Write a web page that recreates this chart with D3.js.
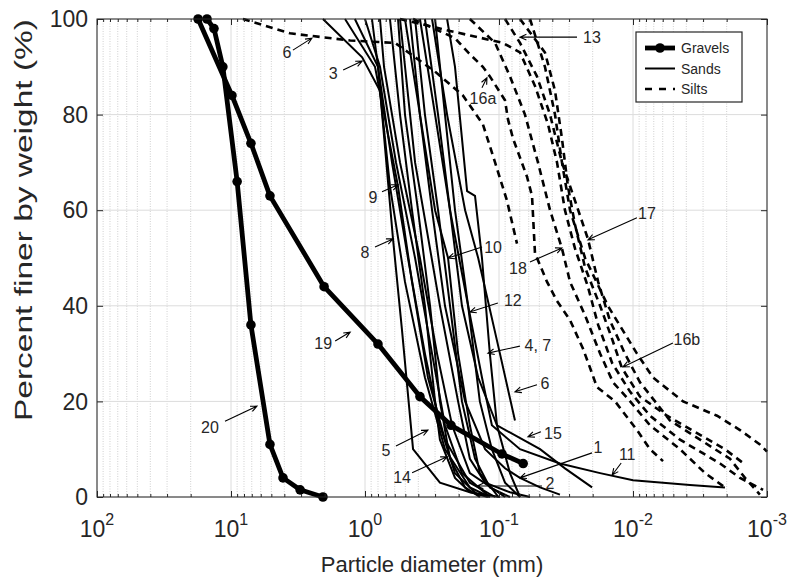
<!DOCTYPE html>
<html>
<head>
<meta charset="utf-8">
<script src="https://cdn.jsdelivr.net/npm/d3@7"></script>
<style>
  body { margin: 0; background: #fff; }
  text { font-family: "Liberation Sans", Arial, sans-serif; fill: #262626; }
</style>
</head>
<body>
<script>
const width = 794;
const height = 584;
const margin = { top: 19, right: 27, bottom: 87, left: 97 };

// ---- data: [particle diameter (mm), percent finer] ----
// gravels
const gravel19 = [[17.6,100],[9.84,84],[7.1,74],[5.12,63],[2.02,44],[0.8,32],[0.389,21],[0.228,15],[0.095,9],[0.066,7]];
const gravel20 = [[15.1,100],[13.4,98],[11.5,90],[9.0,66],[7.1,36],[5.12,11],[4.09,4],[3.05,1.5],[2.06,0]];

// sands
const sand3  = [[2.06,100],[1.05,92],[0.773,85],[0.651,65],[0.503,45],[0.357,25],[0.253,10],[0.165,2],[0.117,0]];
const sand9  = [[1.41,100],[0.842,90],[0.567,65],[0.446,45],[0.339,25],[0.253,12],[0.165,3],[0.107,0]];
const sand8  = [[0.887,100],[0.80,90],[0.618,54],[0.53,35],[0.438,10],[0.276,3],[0.165,1],[0.0984,0]];
const sandA  = [[1.19,100],[0.80,90],[0.629,70],[0.478,50],[0.357,30],[0.276,15],[0.213,5],[0.139,0]];
const sandB  = [[1.0,100],[0.773,90],[0.587,70],[0.423,50],[0.316,30],[0.253,15],[0.189,5],[0.117,0]];
const sandC  = [[0.773,100],[0.721,90],[0.548,70],[0.389,50],[0.29,30],[0.224,15],[0.165,5],[0.0902,0]];
const sand14 = [[0.567,100],[0.503,80],[0.402,60],[0.327,40],[0.276,20],[0.232,8],[0.179,2],[0.139,0]];
const sand10 = [[0.503,100],[0.389,80],[0.3,60],[0.24,50],[0.202,30],[0.165,15],[0.139,5],[0.101,0]];
const sandD  = [[0.423,100],[0.357,80],[0.285,60],[0.232,40],[0.189,20],[0.151,8],[0.117,2],[0.0828,0]];
const sand12 = [[0.389,100],[0.3,80],[0.232,60],[0.17,40],[0.139,20],[0.113,10],[0.0902,3],[0.0697,0]];
const sand47 = [[0.244,100],[0.213,90],[0.173,64],[0.151,63],[0.134,50],[0.117,30],[0.1035,15],[0.0828,5],[0.0697,0]];
const sand6  = [[0.316,100],[0.244,80],[0.179,60],[0.143,50],[0.0984,30],[0.076,16]];
const sand15 = [[0.357,100],[0.285,80],[0.232,60],[0.189,40],[0.143,25],[0.1035,15],[0.0494,10],[0.0322,6],[0.0202,2]];
const sand11 = [[0.3,100],[0.253,80],[0.213,60],[0.17,40],[0.134,25],[0.113,15],[0.0697,10],[0.0351,7],[0.0176,5],[0.01,3.5],[0.00376,2.5],[0.00206,2]];
const sand1  = [[0.461,100],[0.389,80],[0.316,60],[0.253,40],[0.179,20],[0.127,10],[0.0902,6],[0.0697,4],[0.0494,2],[0.0351,0.5]];
const sand2  = [[0.548,100],[0.423,70],[0.276,40],[0.202,20],[0.165,8],[0.127,3],[0.0828,1],[0.0587,0]];
const sand5  = [[0.651,100],[0.548,80],[0.446,60],[0.357,40],[0.3,20],[0.276,12],[0.213,4],[0.165,1],[0.121,0]];

// silts
const silt6   = [[8.14,100],[3.63,97],[1.29,95.5],[0.597,95],[0.3,89],[0.186,84],[0.132,78],[0.107,70],[0.0872,62],[0.0734,53]];
const silt16a = [[0.438,100],[0.213,96],[0.17,93],[0.132,90],[0.117,88],[0.0902,83],[0.0857,79],[0.0786,75],[0.0697,71],[0.0618,67],[0.0567,63],[0.0539,51],[0.0438,45],[0.0369,41],[0.0295,37],[0.0236,31],[0.0209,27],[0.0186,23],[0.0136,20],[0.00934,14],[0.00747,10],[0.00597,7.5]];
const silt18  = [[0.165,100],[0.107,95],[0.0828,88],[0.064,80],[0.0512,70],[0.0416,60],[0.0339,52],[0.0295,45],[0.0228,38],[0.0176,30],[0.0141,24],[0.0105,20],[0.00747,15],[0.00446,10],[0.0029,5],[0.00206,2]];
const silt13  = [[0.548,100],[0.232,97.5],[0.0934,95],[0.0697,93],[0.0539,86],[0.0431,78],[0.0369,70],[0.0322,60],[0.0271,52],[0.0217,44],[0.0182,36],[0.0143,28],[0.0105,22],[0.00747,17],[0.00446,12],[0.00224,7],[0.00159,4],[0.00107,1.5]];
const silt17  = [[0.0902,100],[0.0697,95],[0.0521,88],[0.0416,80],[0.0339,70],[0.0271,62],[0.0217,54],[0.0182,45],[0.0149,37],[0.0115,30],[0.00887,24],[0.00685,20],[0.0053,16],[0.00316,12],[0.00189,8],[0.00146,4],[0.00113,0.5]];
const silt16b = [[0.0697,100],[0.0454,93],[0.0382,85],[0.0339,75],[0.0306,65],[0.0271,57],[0.0228,48],[0.0176,40],[0.0143,33],[0.0121,27],[0.00887,21],[0.00557,17],[0.00316,13],[0.00206,10],[0.00154,7.3]];
const siltR   = [[0.0587,100],[0.0454,90],[0.0382,80],[0.0339,70],[0.0295,60],[0.0228,50],[0.0154,40],[0.00934,30],[0.00709,25],[0.00423,20],[0.00236,17],[0.00159,14],[0.00113,11],[0.001,9.5]];

const gravels = [gravel19, gravel20];
const sands = [sand3, sand9, sand8, sandA, sandB, sandC, sand14, sand10, sandD, sand12, sand47, sand6, sand15, sand11, sand1, sand2, sand5];
const silts = [silt6, silt16a, silt18, silt13, silt17, silt16b, siltR];

// axis ticks
const xMajor = [100, 10, 1, 0.1, 0.01, 0.001];
const xExponents = ["2", "1", "0", "-1", "-2", "-3"];
const yTicks = [0, 20, 40, 60, 80, 100];

// curve labels: tip in data units, text / arrow start as pixel offsets from the tip
const notes = [
  { t: "6",    d: 2.49,   p: 96.0, tx: -25, ty: 14,  ax: -19, ay: 12 },
  { t: "3",    d: 1.05,   p: 91.2, tx: -29, ty: 12,  ax: -19, ay: 9 },
  { t: "13",   d: 0.0697, p: 96.2, tx: 72,  ty: 0,   ax: 57,  ay: 0 },
  { t: "16a",  d: 0.123,  p: 87.7, tx: -4,  ty: 20,  ax: -5,  ay: 10 },
  { t: "9",    d: 0.567,  p: 65.3, tx: -25, ty: 12,  ax: -16, ay: 7 },
  { t: "8",    d: 0.618,  p: 54.0, tx: -28, ty: 13,  ax: -18, ay: 8 },
  { t: "10",   d: 0.240,  p: 50.0, tx: 45,  ty: -11, ax: 34,  ay: -11 },
  { t: "12",   d: 0.165,  p: 38.7, tx: 43,  ty: -12, ax: 28,  ay: -9 },
  { t: "4, 7", d: 0.121,  p: 30.1, tx: 50,  ty: -8,  ax: 32,  ay: -7 },
  { t: "18",   d: 0.0339, p: 52.1, tx: -44, ty: 20,  ax: -32, ay: 14 },
  { t: "17",   d: 0.0217, p: 53.8, tx: 59,  ty: -27, ax: 49,  ay: -22 },
  { t: "16b",  d: 0.0119, p: 27.2, tx: 64,  ty: -28, ax: 50,  ay: -24 },
  { t: "19",   d: 1.29,   p: 34.5, tx: -27, ty: 11,  ax: -15, ay: 9 },
  { t: "20",   d: 6.40,   p: 19.0, tx: -47, ty: 21,  ax: -32, ay: 15 },
  { t: "6",    d: 0.0760, p: 22.0, tx: 30,  ty: -9,  ax: 22,  ay: -7 },
  { t: "15",   d: 0.0608, p: 12.6, tx: 25,  ty: -4,  ax: 13,  ay: -5 },
  { t: "5",    d: 0.339,  p: 14.0, tx: -42, ty: 20,  ax: -32, ay: 16 },
  { t: "14",   d: 0.244,  p: 8.4,  tx: -45, ty: 20,  ax: -35, ay: 16 },
  { t: "2",    d: 0.146,  p: 2.3,  tx: 73,  ty: -3,  ax: 65,  ay: 0 },
  { t: "1",    d: 0.0697, p: 4.0,  tx: 78,  ty: -31, ax: 72,  ay: -25 },
  { t: "11",   d: 0.0143, p: 4.6,  tx: 15,  ty: -21, ax: 9,   ay: -12 }
];

let svg = d3
  .select("body")
  .append("svg")
  .attr("width", width)
  .attr("height", height);

let x = d3
  .scaleLog()
  .domain([100, 0.001])
  .range([margin.left, width - margin.right]);

let y = d3
  .scaleLinear()
  .domain([0, 100])
  .range([height - margin.bottom, margin.top]);

let xMinor = [];
[1, 0, -1, -2, -3].forEach((k) => {
  for (let m = 2; m <= 9; m++) xMinor.push(m * Math.pow(10, k));
});

// grid
let grid = svg.append("g");
grid
  .selectAll(".minor")
  .data(xMinor)
  .join("line")
  .attr("x1", (d) => x(d))
  .attr("x2", (d) => x(d))
  .attr("y1", y(0))
  .attr("y2", y(100))
  .attr("stroke", "#c4c4c4")
  .attr("stroke-width", 0.8)
  .attr("stroke-dasharray", "1,1.5");
grid
  .selectAll(".major")
  .data(xMajor)
  .join("line")
  .attr("x1", (d) => x(d))
  .attr("x2", (d) => x(d))
  .attr("y1", y(0))
  .attr("y2", y(100))
  .attr("stroke", "#dcdcdc")
  .attr("stroke-width", 1);
grid
  .selectAll(".hgrid")
  .data(yTicks)
  .join("line")
  .attr("x1", x(100))
  .attr("x2", x(0.001))
  .attr("y1", (d) => y(d))
  .attr("y2", (d) => y(d))
  .attr("stroke", "#dcdcdc")
  .attr("stroke-width", 1);

// curves
let line = d3
  .line()
  .x((d) => x(d[0]))
  .y((d) => y(d[1]));

svg
  .append("g")
  .selectAll("path")
  .data(silts)
  .join("path")
  .attr("d", line)
  .attr("fill", "none")
  .attr("stroke", "#000")
  .attr("stroke-width", 2.6)
  .attr("stroke-dasharray", "7,5");

svg
  .append("g")
  .selectAll("path")
  .data(sands)
  .join("path")
  .attr("d", line)
  .attr("fill", "none")
  .attr("stroke", "#000")
  .attr("stroke-width", 2);

let gravelG = svg.append("g");
gravelG
  .selectAll("path")
  .data(gravels)
  .join("path")
  .attr("d", line)
  .attr("fill", "none")
  .attr("stroke", "#000")
  .attr("stroke-width", 4.8)
  .attr("stroke-linejoin", "round");
gravelG
  .selectAll("circle")
  .data(gravels.flat())
  .join("circle")
  .attr("cx", (d) => x(d[0]))
  .attr("cy", (d) => y(d[1]))
  .attr("r", 4.8)
  .attr("fill", "#000");

// axes (ticks pointing inward, MATLAB style)
function styleAxis(g) {
  g.select(".domain").remove();
  g.selectAll("line").attr("stroke", "#262626");
}
let bottomY = height - margin.bottom;
svg.append("g").attr("transform", `translate(0,${bottomY})`)
  .call(d3.axisBottom(x).tickValues(xMajor).tickSize(-6).tickSizeOuter(0).tickFormat(""))
  .call(styleAxis);
svg.append("g").attr("transform", `translate(0,${bottomY})`)
  .call(d3.axisBottom(x).tickValues(xMinor).tickSize(-3).tickSizeOuter(0).tickFormat(""))
  .call(styleAxis);
svg.append("g").attr("transform", `translate(0,${margin.top})`)
  .call(d3.axisTop(x).tickValues(xMajor).tickSize(-6).tickSizeOuter(0).tickFormat(""))
  .call(styleAxis);
svg.append("g").attr("transform", `translate(0,${margin.top})`)
  .call(d3.axisTop(x).tickValues(xMinor).tickSize(-3).tickSizeOuter(0).tickFormat(""))
  .call(styleAxis);
svg.append("g").attr("transform", `translate(${margin.left},0)`)
  .call(d3.axisLeft(y).tickValues(yTicks).tickSize(-6).tickSizeOuter(0).tickFormat(""))
  .call(styleAxis);
svg.append("g").attr("transform", `translate(${width - margin.right},0)`)
  .call(d3.axisRight(y).tickValues(yTicks).tickSize(-6).tickSizeOuter(0).tickFormat(""))
  .call(styleAxis);

svg
  .append("rect")
  .attr("x", margin.left)
  .attr("y", margin.top)
  .attr("width", width - margin.left - margin.right)
  .attr("height", height - margin.top - margin.bottom)
  .attr("fill", "none")
  .attr("stroke", "#262626")
  .attr("stroke-width", 1);

// tick labels
let xLabels = svg
  .append("g")
  .selectAll("text")
  .data(xMajor)
  .join("text")
  .attr("x", (d) => x(d))
  .attr("y", bottomY + 40)
  .attr("text-anchor", "middle")
  .attr("font-size", 23);
xLabels.append("tspan").text("10");
xLabels
  .append("tspan")
  .attr("font-size", 16)
  .attr("dy", -12)
  .text((d, i) => xExponents[i]);

svg
  .append("g")
  .selectAll("text")
  .data(yTicks)
  .join("text")
  .attr("x", margin.left - 9)
  .attr("y", (d) => y(d))
  .attr("dy", "0.36em")
  .attr("text-anchor", "end")
  .attr("font-size", 23)
  .text((d) => d);

// axis titles
svg
  .append("text")
  .attr("x", (margin.left + width - margin.right) / 2)
  .attr("y", 572)
  .attr("text-anchor", "middle")
  .attr("font-size", 22)
  .text("Particle diameter (mm)");

// the y title in the source is stretched along its length
svg
  .append("text")
  .attr("transform", "translate(32,220) rotate(-90)")
  .attr("text-anchor", "middle")
  .attr("font-size", 23)
  .attr("textLength", 402)
  .attr("lengthAdjust", "spacingAndGlyphs")
  .text("Percent finer by weight (%)");

// curve labels with arrows
let noteG = svg.append("g");
notes.forEach((n) => {
  let px = x(n.d);
  let py = y(n.p);
  let sx = px + n.ax;
  let sy = py + n.ay;
  let ang = Math.atan2(py - sy, px - sx);
  let head = 7;
  let spread = 0.42;
  noteG.append("path")
    .attr("d",
      `M${sx},${sy}L${px},${py}` +
      `M${px - head * Math.cos(ang - spread)},${py - head * Math.sin(ang - spread)}L${px},${py}` +
      `L${px - head * Math.cos(ang + spread)},${py - head * Math.sin(ang + spread)}`)
    .attr("fill", "none")
    .attr("stroke", "#000")
    .attr("stroke-width", 1.1);
  noteG.append("text")
    .attr("x", px + n.tx)
    .attr("y", py + n.ty)
    .attr("dy", "0.36em")
    .attr("text-anchor", "middle")
    .attr("font-size", 16)
    .text(n.t);
});

// legend
let legend = svg.append("g");
legend
  .append("rect")
  .attr("x", 636)
  .attr("y", 32)
  .attr("width", 106)
  .attr("height", 70)
  .attr("fill", "#fff")
  .attr("stroke", "#262626")
  .attr("stroke-width", 1.2);

let legendItems = [
  { name: "Gravels", width: 4.8, dash: null, dot: true },
  { name: "Sands", width: 2, dash: null, dot: false },
  { name: "Silts", width: 2.6, dash: "7,7", dot: false }
];
legendItems.forEach((item, i) => {
  let ly = 48 + i * 20.5;
  legend.append("line")
    .attr("x1", 645).attr("x2", 675)
    .attr("y1", ly).attr("y2", ly)
    .attr("stroke", "#000")
    .attr("stroke-width", item.width)
    .attr("stroke-dasharray", item.dash);
  if (item.dot) {
    legend.append("circle").attr("cx", 660).attr("cy", ly).attr("r", 4.8).attr("fill", "#000");
  }
  legend.append("text")
    .attr("x", 681)
    .attr("y", ly)
    .attr("dy", "0.36em")
    .attr("font-size", 14)
    .text(item.name);
});
</script>
</body>
</html>
